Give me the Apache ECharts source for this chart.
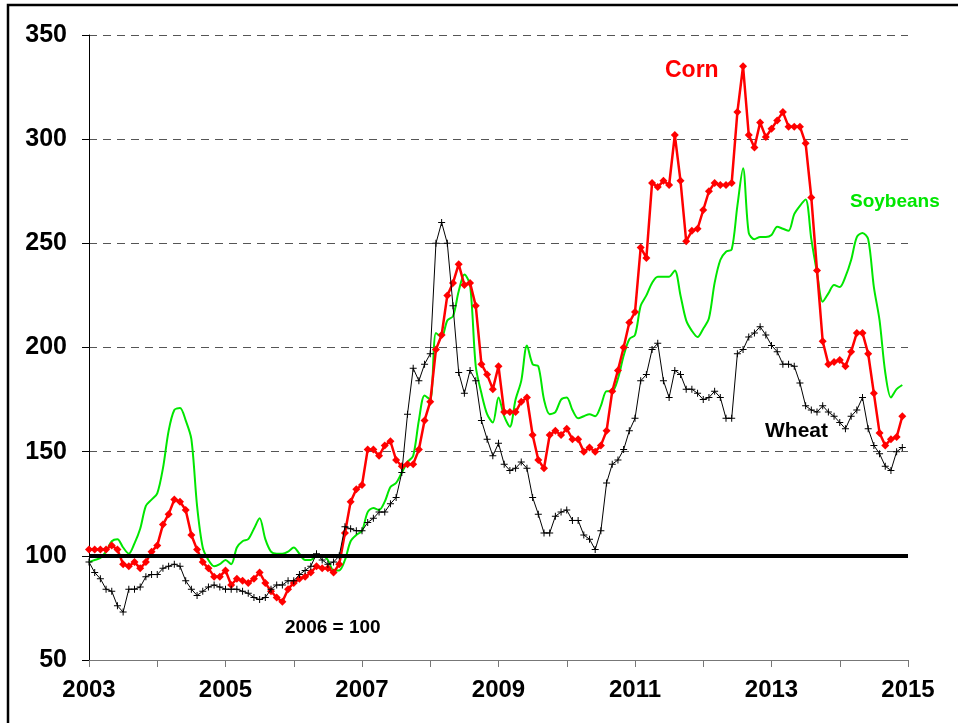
<!DOCTYPE html>
<html>
<head>
<meta charset="utf-8">
<script src="https://cdn.jsdelivr.net/npm/echarts@6/dist/echarts.min.js"></script>
<style>
  html, body { margin: 0; padding: 0; background: #fff; }
  #chart { width: 958px; height: 723px; }
</style>
</head>
<body>
<div id="chart"></div>
<script>
// monthly index numbers, 2006 = 100, Jan 2003 .. Dec 2014
const startYear = 2003
const corn = [
  103, 103, 103, 103, 105, 103, 96, 95, 97, 94, 97, 102,
  105, 115, 120, 127, 126, 122, 110, 103, 97, 94, 90, 90,
  93, 86, 89, 88, 87, 89, 92, 87, 83, 80, 78, 84,
  87, 89, 90, 92, 95, 94, 94, 92, 96, 111, 126, 132,
  134, 151, 151, 148, 153, 155, 146, 143, 144, 144, 151, 165,
  174, 199, 206, 225, 231, 240, 230, 231, 220, 192, 187, 180,
  191, 169, 169, 169, 174, 176, 158, 146, 142, 158, 160, 158,
  161, 156, 156, 150, 152, 150, 153, 160, 179, 189, 200, 212,
  217, 248, 243, 279, 277, 280, 278, 302, 280, 251, 256, 257,
  266, 275, 279, 278, 278, 279, 313, 335, 302, 296, 308, 301,
  305, 309, 313, 306, 306, 306, 298, 272, 237, 203, 192, 193,
  194, 191, 198, 207, 207, 197, 178, 159, 153, 156, 157, 167
]
const wheat = [
  97, 92, 89, 84, 83, 76, 73, 84, 84, 85, 90, 91,
  91, 94, 95, 96, 95, 88, 84, 81, 83, 85, 86, 85,
  84, 84, 84, 83, 82, 80, 79, 80, 84, 86, 86, 88,
  88, 91, 93, 95, 101, 98, 96, 97, 100, 114, 113, 112,
  112, 116, 118, 121, 121, 125, 128, 140, 168, 190, 184, 192,
  197, 250, 260, 250, 220, 188, 178, 189, 184, 165, 156, 148,
  154, 144, 141, 142, 145, 142, 128, 120, 111, 111, 119, 121,
  122, 117, 117, 110, 108, 103, 112, 135, 144, 146, 151, 160,
  166, 184, 187, 199, 202, 184, 176, 189, 187, 180, 180, 178,
  175, 176, 179, 176, 166, 166, 197, 199, 205, 207, 210, 206,
  201, 198, 192, 192, 191, 183, 172, 170, 169, 172, 169, 167,
  164, 161, 167, 170, 176, 161, 153, 149, 143, 141, 150, 152
]
const soybeans = [
  97, 98, 99, 102, 107, 108, 104, 101, 106, 113, 124, 127,
  130, 142, 160, 170, 171, 165, 156, 124, 104, 98, 95, 96,
  98, 96, 104, 107, 108, 113, 118, 108, 102, 101, 101, 102,
  104, 101, 98, 98, 100, 100, 98, 93, 93, 98, 107, 110,
  112, 121, 123, 122, 126, 133, 135, 140, 145, 148, 165, 177,
  175, 207, 205, 213, 215, 227, 235, 230, 191, 178, 168, 164,
  176, 167, 162, 175, 184, 201, 192, 191, 175, 168, 169, 175,
  176, 170, 166, 167, 168, 167, 172, 179, 179, 185, 196, 204,
  206, 220, 225, 231, 234, 234, 234, 237, 225, 213, 208, 205,
  209, 214, 231, 242, 246, 247, 268, 286, 255, 252, 253, 253,
  254, 258, 257, 256, 264, 268, 271, 252, 236, 222, 226, 230,
  229, 234, 242, 253, 255, 252, 229, 213, 188, 176, 180, 182
]
const yearLabels = [2003, 2005, 2007, 2009, 2011, 2013, 2015]
const yTicks = [50, 100, 150, 200, 250, 300, 350]
const baseValue = 100

const font = '"Liberation Sans", Arial, sans-serif'
const toPoints = (arr) => arr.map((v, i) => [startYear + i / 12, v])
const plusPath = 'path://M3,0H4V3H7V4H4V7H3V4H0V3H3Z'

const chart = echarts.init(document.getElementById('chart'), null, { renderer: 'canvas' })

chart.setOption({
  animation: false,
  backgroundColor: '#fff',
  grid: { left: 89, right: 50, top: 35, bottom: 63 },
  xAxis: {
    type: 'value',
    min: yearLabels[0],
    max: yearLabels[yearLabels.length - 1],
    interval: 1,
    axisLine: { lineStyle: { color: '#777', width: 1 } },
    axisTick: { length: 7, lineStyle: { color: '#777' } },
    splitLine: { show: false },
    axisLabel: {
      margin: 18,
      color: '#000',
      fontFamily: font,
      fontWeight: 'bold',
      fontSize: 24,
      formatter: (v) => (yearLabels.includes(Math.round(v)) ? String(Math.round(v)) : '')
    }
  },
  yAxis: {
    type: 'value',
    min: yTicks[0],
    max: yTicks[yTicks.length - 1],
    interval: 50,
    axisLine: { show: true, lineStyle: { color: '#000', width: 1 } },
    axisTick: { show: true, length: 7, lineStyle: { color: '#000' } },
    splitLine: { lineStyle: { color: '#555', type: [8, 6], width: 1 } },
    axisLabel: {
      margin: 22,
      color: '#000',
      fontFamily: font,
      fontWeight: 'bold',
      fontSize: 25
    }
  },
  series: [
    {
      name: 'Soybeans',
      type: 'line',
      data: toPoints(soybeans),
      smooth: 0.3,
      showSymbol: false,
      lineStyle: { color: '#00e600', width: 2 },
      z: 2
    },
    {
      name: 'Corn',
      type: 'line',
      data: toPoints(corn),
      symbol: 'diamond',
      symbolSize: 8,
      itemStyle: { color: '#ff0000' },
      lineStyle: { color: '#ff0000', width: 2.5 },
      z: 3
    },
    {
      name: 'Wheat',
      type: 'line',
      data: toPoints(wheat),
      symbol: plusPath,
      symbolSize: 7,
      itemStyle: { color: '#000' },
      lineStyle: { color: '#000', width: 1 },
      z: 4,
      markLine: {
        silent: true,
        symbol: 'none',
        label: { show: false },
        lineStyle: { color: '#000', width: 4, type: 'solid' },
        data: [{ yAxis: baseValue }]
      }
    }
  ],
  graphic: [
    {
      type: 'rect',
      shape: { x: 8, y: 5, width: 1000, height: 800 },
      style: { fill: 'none', stroke: '#000', lineWidth: 2.5 },
      silent: true
    },
    {
      type: 'text', left: 665, top: 59,
      style: { text: 'Corn', fill: '#ff0000', font: 'bold 23px ' + font }
    },
    {
      type: 'text', left: 850, top: 192,
      style: { text: 'Soybeans', fill: '#00e600', font: 'bold 19px ' + font }
    },
    {
      type: 'text', left: 765, top: 421,
      style: { text: 'Wheat', fill: '#000', font: 'bold 21px ' + font }
    },
    {
      type: 'text', left: 285, top: 618,
      style: { text: '2006 = 100', fill: '#000', font: 'bold 19px ' + font }
    }
  ]
})
</script>
</body>
</html>
